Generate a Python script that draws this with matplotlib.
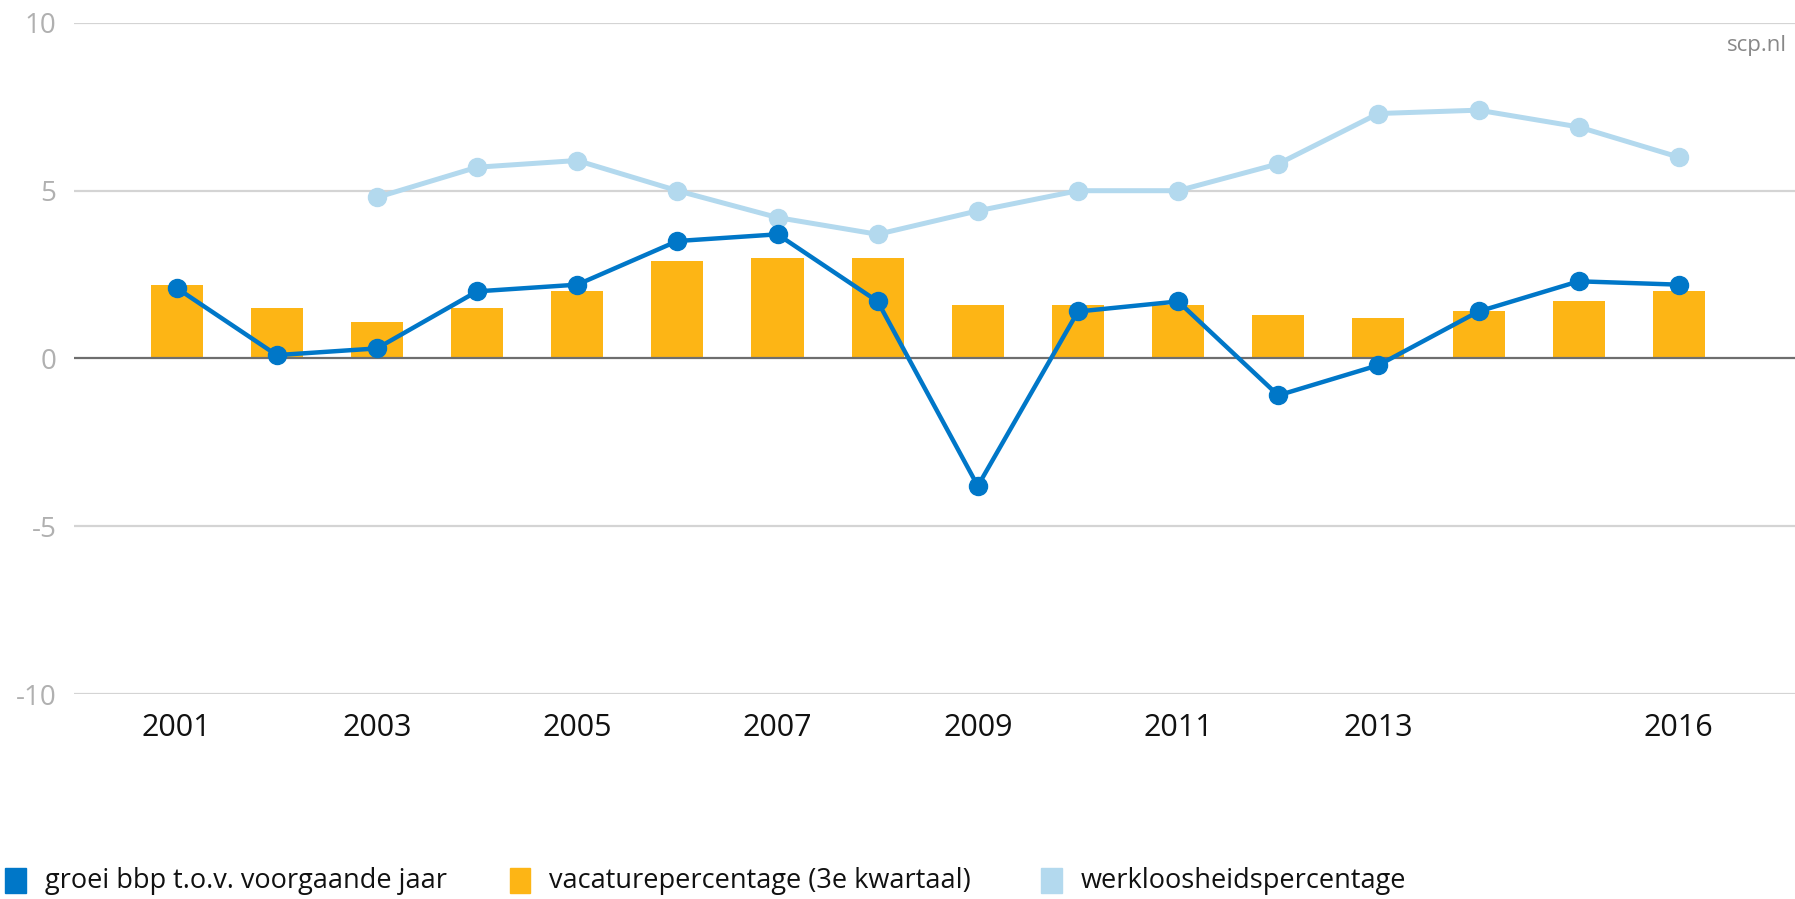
import matplotlib.pyplot as plt
import numpy as np
from matplotlib import font_manager

years = [2001, 2002, 2003, 2004, 2005, 2006, 2007, 2008,
         2009, 2010, 2011, 2012, 2013, 2014, 2015, 2016]
groei_bbp = [2.1, 0.1, 0.3, 2.0, 2.2, 3.5, 3.7, 1.7,
             -3.8, 1.4, 1.7, -1.1, -0.2, 1.4, 2.3, 2.2]
vacatures = [2.2, 1.5, 1.1, 1.5, 2.0, 2.9, 3.0, 3.0,
             1.6, 1.6, 1.6, 1.3, 1.2, 1.4, 1.7, 2.0]
werkloosheid = [np.nan, np.nan, 4.8, 5.7, 5.9, 5.0, 4.2, 3.7,
                4.4, 5.0, 5.0, 5.8, 7.3, 7.4, 6.9, 6.0]
shown_years = [2001, 2003, 2005, 2007, 2009, 2011, 2013, 2016]
y_ticks = [-10, -5, 0, 5, 10]

names = ["groei bbp t.o.v. voorgaande jaar",
         "vacaturepercentage (3e kwartaal)",
         "werkloosheidspercentage"]
colors = ["#0077c8", "#fdb515", "#b3d9ee"]


def pick_font():
    available = set(f.name for f in font_manager.fontManager.ttflist)
    for name in ["Open Sans", "Noto Sans"]:
        if name in available:
            return name
    return "DejaVu Sans"


plt.rcParams["font.family"] = [pick_font(), "DejaVu Sans"]

fig = plt.figure(figsize=(17.95, 8.99), dpi=100)
ax = fig.add_axes([0.0415, 0.228, 0.9585, 0.7465])

x = np.arange(len(years))
ax.bar(x, vacatures, width=0.52, color=colors[1], zorder=2)
ax.plot(x, werkloosheid, color=colors[2], lw=3.6, marker="o", ms=13, zorder=3)
ax.plot(x, groei_bbp, color=colors[0], lw=3.2, marker="o", ms=13, zorder=4)

ax.set_ylim(-10, 10)
ax.set_xlim(-1.02, 16.16)
ax.set_yticks(y_ticks)
ax.set_yticklabels([str(t) for t in y_ticks])
for t in y_ticks:
    if t == 0:
        ax.axhline(t, color="#6e6e6e", lw=1.6, zorder=3)
    else:
        ax.axhline(t, color="#d4d4d4", lw=1.6, zorder=1)

ax.set_xticks([years.index(y) for y in shown_years])
ax.set_xticklabels([str(y) for y in shown_years])
ax.tick_params(axis="y", length=0, pad=13, labelsize=20, labelcolor="#b0b0b0")
ax.tick_params(axis="x", length=0, pad=14, labelsize=22, labelcolor="#111111")
for s in ax.spines.values():
    s.set_visible(False)

ax.text(0.995, 0.966, "scp.nl", transform=ax.transAxes, ha="right", va="center",
        fontsize=16, color="#888888")

# legenda onderaan
legend_x = [0.003, 0.284, 0.580]
for i in range(0, len(names)):
    fig.patches.append(plt.Rectangle((legend_x[i], 0.007), 0.0115, 0.027,
                                     transform=fig.transFigure, color=colors[i]))
    fig.text(legend_x[i] + 0.022, 0.020, names[i], ha="left", va="center",
             fontsize=19.5, color="#111111")

fig.savefig("out.png", dpi=100)
